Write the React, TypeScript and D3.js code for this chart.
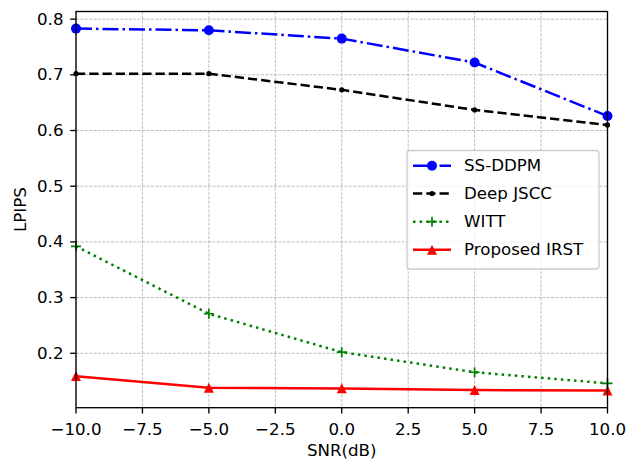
import React from "react";
import * as d3 from "d3";

const snr = [-10, -5, 0, 5, 10];
const ssDdpm = [0.783, 0.78, 0.765, 0.722, 0.626];
const deepJscc = [0.702, 0.702, 0.673, 0.637, 0.61];
const witt = [0.392, 0.271, 0.202, 0.166, 0.146];
const irst = [0.159, 0.138, 0.137, 0.134, 0.133];

const xTicks = [-10, -7.5, -5, -2.5, 0, 2.5, 5, 7.5, 10];
const yTicks = [0.2, 0.3, 0.4, 0.5, 0.6, 0.7, 0.8];

const W = 638;
const H = 462;
const M = { left: 76, right: 607.5, top: 11.5, bottom: 407.7 };
const FONT = "DejaVu Sans, sans-serif";
const FS = 16.67;
const LW = 2.5;

type Series = {
  name: string;
  values: number[];
  color: string;
  dash: string;
  marker: "circle" | "point" | "plus" | "triangle";
};

const series: Series[] = [
  { name: "SS-DDPM", values: ssDdpm, color: "#0000ff", dash: "16,4,2.5,4", marker: "circle" },
  { name: "Deep JSCC", values: deepJscc, color: "#000000", dash: "9.25,4", marker: "point" },
  { name: "WITT", values: witt, color: "#008000", dash: "2.5,4.1", marker: "plus" },
  { name: "Proposed IRST", values: irst, color: "#ff0000", dash: "", marker: "triangle" },
];

const fmt = (v: number) => {
  const s = v.toFixed(1);
  return s.startsWith("-") ? "\u2212" + s.slice(1) : s;
};

function Marker({ type, x, y, color }: { type: Series["marker"]; x: number; y: number; color: string }) {
  if (type === "circle") return <circle cx={x} cy={y} r={5} fill={color} />;
  if (type === "point") return <circle cx={x} cy={y} r={2.6} fill={color} />;
  if (type === "plus")
    return (
      <path d={`M${x - 5},${y}H${x + 5}M${x},${y - 5}V${y + 5}`} stroke={color} strokeWidth={1.67} />
    );
  const s = 5;
  return <path d={`M${x},${y - s}L${x + s},${y + s}L${x - s},${y + s}Z`} fill={color} />;
}

export default function App() {
  const x = d3.scaleLinear().domain([-10, 10]).range([M.left, M.right]);
  const y = d3.scaleLinear().domain([0.1023, 0.8137]).range([M.bottom, M.top]);
  const line = d3
    .line<number>()
    .x((_, i) => x(snr[i]))
    .y((d) => y(d));

  const legX = 407;
  const legY = 150.5;
  const rowY = [165.7, 193.5, 221.7, 249.8];

  return (
    <svg
      width={W}
      height={H}
      style={{ position: "absolute", left: 0, top: 0, background: "#fff" }}
      fontFamily={FONT}
    >
      <defs>
        <clipPath id="plotClip">
          <rect x={M.left} y={M.top} width={M.right - M.left} height={M.bottom - M.top} />
        </clipPath>
      </defs>
      {/* grid */}
      <g stroke="#b0b0b0" strokeWidth={0.83} strokeDasharray="3.1,1.3">
        {xTicks.map((t) => (
          <line key={"gx" + t} x1={x(t)} x2={x(t)} y1={M.top} y2={M.bottom} />
        ))}
        {yTicks.map((t) => (
          <line key={"gy" + t} x1={M.left} x2={M.right} y1={y(t)} y2={y(t)} />
        ))}
      </g>
      {/* series lines */}
      <g clipPath="url(#plotClip)">
        {series.map((s) => (
          <path
            key={s.name}
            d={line(s.values) || ""}
            fill="none"
            stroke={s.color}
            strokeWidth={LW}
            strokeDasharray={s.dash || undefined}
          />
        ))}
      </g>
      {series.map((s) => (
        <g key={s.name + "m"}>
          {s.values.map((v, i) => (
            <Marker key={i} type={s.marker} x={x(snr[i])} y={y(v)} color={s.color} />
          ))}
        </g>
      ))}
      {/* frame */}
      <rect
        x={M.left}
        y={M.top}
        width={M.right - M.left}
        height={M.bottom - M.top}
        fill="none"
        stroke="#000"
        strokeWidth={1.33}
      />
      {/* axes */}
      <g fontSize={FS} fill="#000">
        {xTicks.map((t) => (
          <g key={"xt" + t}>
            <line x1={x(t)} x2={x(t)} y1={M.bottom} y2={M.bottom + 5.8} stroke="#000" strokeWidth={1.33} />
            <text x={x(t)} y={M.bottom + 27.3} textAnchor="middle">
              {fmt(t)}
            </text>
          </g>
        ))}
        {yTicks.map((t) => (
          <g key={"yt" + t}>
            <line x1={M.left - 5.8} x2={M.left} y1={y(t)} y2={y(t)} stroke="#000" strokeWidth={1.33} />
            <text x={M.left - 12.5} y={y(t)} textAnchor="end" dominantBaseline="central">
              {t.toFixed(1)}
            </text>
          </g>
        ))}
        <text x={(M.left + M.right) / 2} y={456} textAnchor="middle">
          SNR(dB)
        </text>
        <text transform={`translate(26,${(M.top + M.bottom) / 2}) rotate(-90)`} textAnchor="middle">
          LPIPS
        </text>
      </g>
      {/* legend */}
      <rect
        x={legX}
        y={legY}
        width={192}
        height={118.5}
        rx={3}
        fill="#fff"
        fillOpacity={0.8}
        stroke="#cccccc"
        strokeWidth={1.33}
      />
      {series.map((s, i) => (
        <g key={s.name + "l"}>
          <line
            x1={413}
            x2={451}
            y1={rowY[i]}
            y2={rowY[i]}
            stroke={s.color}
            strokeWidth={LW}
            strokeDasharray={s.dash || undefined}
          />
          <Marker type={s.marker} x={432} y={rowY[i]} color={s.color} />
          <text x={464} y={rowY[i]} dominantBaseline="central" fontSize={FS} fill="#000">
            {s.name}
          </text>
        </g>
      ))}
    </svg>
  );
}
